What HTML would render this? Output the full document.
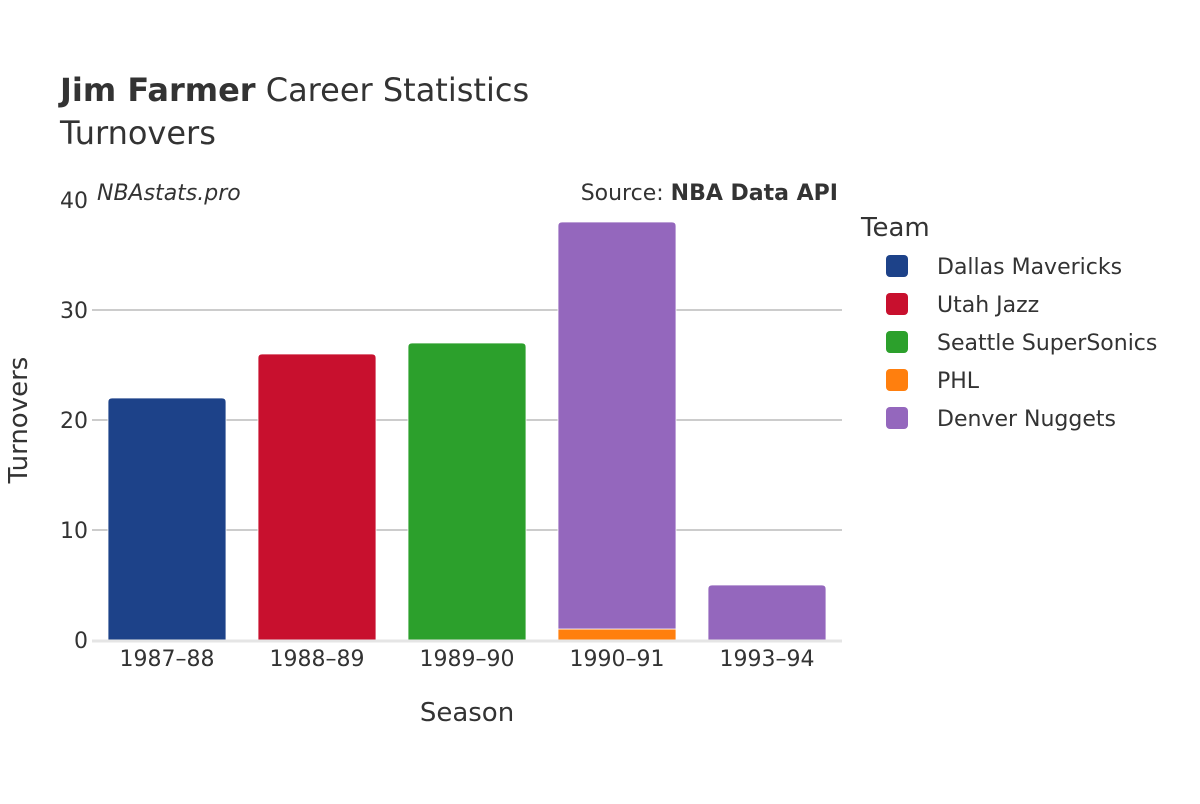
<!DOCTYPE html>
<html><head><meta charset="utf-8"><style>
body{margin:0;background:#fff;width:1200px;height:800px;overflow:hidden;font-family:"DejaVu Sans","Liberation Sans",sans-serif;}
svg text{font-family:"DejaVu Sans","Liberation Sans",sans-serif;}
</style></head><body>
<svg id="chart" width="1200" height="800" xmlns="http://www.w3.org/2000/svg">
<text x="60" y="101" font-size="32" fill="#333"><tspan font-weight="bold">Jim Farmer</tspan> Career Statistics</text>
<text x="60" y="144" font-size="32" fill="#333">Turnovers</text>
<text x="97" y="200" font-size="22" font-style="italic" fill="#333">NBAstats.pro</text>
<text x="838" y="200" font-size="22" text-anchor="end" fill="#333">Source: <tspan font-weight="bold">NBA Data API</tspan></text>
<g id="grid"></g><g id="bars"></g><g id="axes"></g>
<text x="467" y="721" font-size="26" text-anchor="middle" fill="#333">Season</text>
<text transform="translate(27,420) rotate(-90)" font-size="26" text-anchor="middle" fill="#333">Turnovers</text>
<g id="legend"></g>
</svg>
<script>
const seasons=["1987–88","1988–89","1989–90","1990–91","1993–94"];
const teams=["Dallas Mavericks","Utah Jazz","Seattle SuperSonics","PHL","Denver Nuggets"];
const colors=["#1d4289","#c8102e","#2ca02c","#ff7f0e","#9467bd"];
const dal=[22,0,0,0,0];
const uta=[0,26,0,0,0];
const sea=[0,0,27,0,0];
const phl=[0,0,0,1,0];
const den=[0,0,0,37,5];
const yTicks=[0,10,20,30,40];
const series=[dal,uta,sea,phl,den];
const NS="http://www.w3.org/2000/svg";
const x0=92,x1=842,y0=640,yMax=40,yTop=200;
const band=(x1-x0)/seasons.length, bw=118;
const y=v=>y0-(v/yMax)*(y0-yTop);
const xc=i=>x0+band*(i+0.5);
function mk(t,a,p){const e=document.createElementNS(NS,t);for(const k in a)e.setAttribute(k,a[k]);p.appendChild(e);return e;}
const grid=document.getElementById('grid'),bars=document.getElementById('bars'),axes=document.getElementById('axes'),leg=document.getElementById('legend');
yTicks.forEach(t=>{
 if(t>0&&t<yMax){const l=mk('line',{x1:x0,x2:x1,y1:y(t),y2:y(t),stroke:'#bbb','stroke-width':1.5},grid);
 
 }
 const tx=mk('text',{x:88,y:y(t)+8,'font-size':22,'text-anchor':'end',fill:'#333'},axes);tx.textContent=t;
 
 
});
const base=mk('line',{x1:x0,x2:x1,y1:y0+1,y2:y0+1,stroke:'#e5e5e5','stroke-width':3},axes);


seasons.forEach((s,i)=>{
 const tx=mk('text',{x:xc(i),y:666,'font-size':22,'text-anchor':'middle',fill:'#333'},axes);tx.textContent=s;
 
 
 let cum=0;
 const top=series.reduce((m,ser,k)=>ser[i]>0?k:m,-1);
 series.forEach((ser,k)=>{
  const v=ser[i];if(!v)return;
  const yb=y(cum),yt=y(cum+v);cum+=v;
  const xl=xc(i)-bw/2,xr=xc(i)+bw/2,r=(k===top)?4:0;
  const d=`M${xl},${yb}L${xl},${yt+r}Q${xl},${yt} ${xl+r},${yt}L${xr-r},${yt}Q${xr},${yt} ${xr},${yt+r}L${xr},${yb}Z`;
  const p=mk('path',{d:d,fill:colors[k],stroke:'#fff','stroke-width':0.8},bars);
  
  
 });
});
const lt=mk('text',{x:861,y:236,'font-size':26,fill:'#333'},leg);lt.textContent='Team';


teams.forEach((t,k)=>{
 const g=mk('g',{},leg);
 
 
 mk('rect',{x:886,y:255+k*38,width:22,height:22,rx:4,fill:colors[k]},g);
 const tx=mk('text',{x:937,y:274+k*38,'font-size':22,fill:'#333'},g);tx.textContent=t;
});
</script>
</body></html>
